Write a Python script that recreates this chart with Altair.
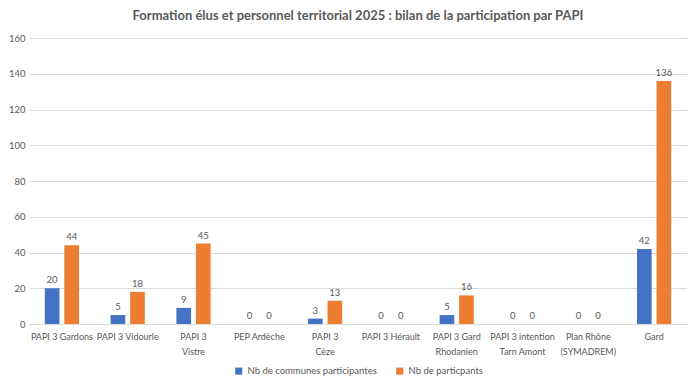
import altair as alt
import pandas as pd

categories = ["PAPI 3 Gardons", "PAPI 3 Vidourle", "PAPI 3\nVistre", "PEP Ardèche",
              "PAPI 3\nCèze", "PAPI 3 Hérault", "PAPI 3 Gard\nRhodanien",
              "PAPI 3 intention\nTarn Amont", "Plan Rhône\n(SYMADREM)", "Gard"]
communes = [20, 5, 9, 0, 3, 0, 5, 0, 0, 42]
participants = [44, 18, 45, 0, 13, 0, 16, 0, 0, 136]
series = ["Nb de communes participantes", "Nb de particpants"]
colors = ["#4472C4", "#ED7D31"]

rows = []
for c, a, b in zip(categories, communes, participants):
    rows.append({"cat": c, "serie": series[0], "val": a})
    rows.append({"cat": c, "serie": series[1], "val": b})
df = pd.DataFrame(rows)

FONT = "Lato"
GREY = "#595959"

x = alt.X("cat:N", sort=categories, title=None,
          scale=alt.Scale(paddingInner=0.48, paddingOuter=0.24),
          axis=alt.Axis(labelAngle=0, labelExpr="split(datum.label, '\\n')",
                        ticks=False, domainColor="#d9d9d9", labelColor=GREY,
                        labelFontSize=9, labelFont=FONT, labelPadding=8,
                        labelLineHeight=15, labelOverlap=False))
xo = alt.XOffset("serie:N", sort=series, scale=alt.Scale(paddingInner=0.25))
y = alt.Y("val:Q", title=None,
          scale=alt.Scale(domain=[0, 160]),
          axis=alt.Axis(values=list(range(0, 161, 20)), domain=False, ticks=False,
                        gridColor="#d9d9d9", labelColor=GREY, labelFontSize=9.5,
                        labelFont=FONT, labelPadding=4))

base = alt.Chart(df)
bars = base.mark_bar().encode(
    x=x, xOffset=xo, y=y,
    color=alt.Color("serie:N", sort=series,
                    scale=alt.Scale(domain=series, range=colors),
                    legend=alt.Legend(orient="none", legendX=205, legendY=328,
                                      direction="horizontal", title=None,
                                      symbolType="square", symbolSize=50,
                                      labelFont=FONT, labelFontSize=9.5, labelColor=GREY,
                                      columnPadding=18, symbolStrokeWidth=0))
)
texts = base.mark_text(dy=-8, fontSize=9.5, font=FONT, color=GREY).encode(
    x=x, xOffset=xo, y=y, text="val:Q"
)

chart = (bars + texts).properties(
    width=658, height=286,
    padding={"left": 0, "top": 2, "right": 0, "bottom": 0},
    title=alt.Title("Formation élus et personnel territorial 2025 : bilan de la participation par PAPI",
                    font=FONT, fontSize=13, fontWeight="bold", color=GREY, offset=10)
).configure_view(stroke=None)

chart.save("out.html", embed_options={"renderer": "svg", "actions": False})
